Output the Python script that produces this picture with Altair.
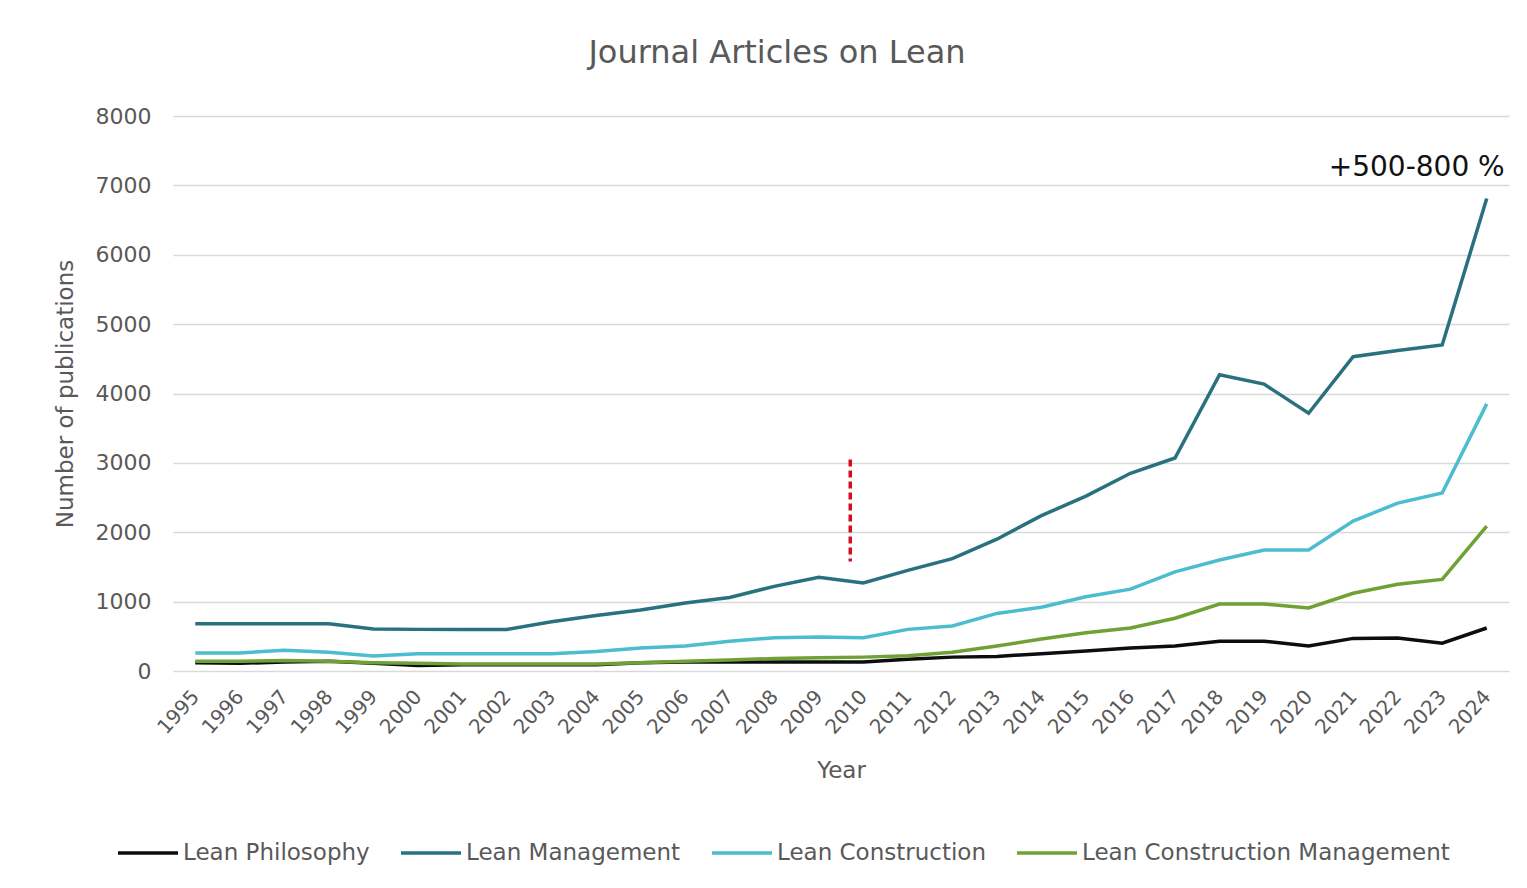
import altair as alt
import pandas as pd

years = [str(y) for y in range(1995, 2025)]

lean_philosophy = [120, 110, 130, 140, 110, 80, 90, 90, 90, 90, 120, 130, 130, 130, 130, 130,
                   170, 200, 210, 250, 290, 330, 360, 430, 430, 360, 470, 475, 400, 620]
lean_management = [680, 680, 680, 680, 605, 600, 600, 600, 710, 800, 880, 980, 1060, 1220, 1350, 1270,
                   1450, 1620, 1900, 2240, 2520, 2850, 3070, 4270, 4135, 3715, 4530, 4620, 4700, 6810]
lean_construction = [260, 260, 300, 270, 215, 250, 250, 250, 250, 280, 330, 360, 430, 480, 490, 480,
                     600, 650, 830, 920, 1070, 1180, 1430, 1600, 1745, 1745, 2160, 2420, 2565, 3850]
lean_constr_mgmt = [140, 140, 150, 140, 120, 110, 100, 100, 100, 100, 120, 140, 160, 180, 190, 200,
                    220, 270, 360, 460, 550, 620, 760, 965, 965, 910, 1120, 1250, 1320, 2090]

series_names = ["Lean Philosophy", "Lean Management", "Lean Construction", "Lean Construction Management"]
series_colors = ["#0d0d0d", "#2a7180", "#4cbccf", "#6fa135"]
series_values = [lean_philosophy, lean_management, lean_construction, lean_constr_mgmt]

rows = []
for name, vals in zip(series_names, series_values):
    for y, v in zip(years, vals):
        rows.append({"Year": y, "Value": v, "Series": name})
df = pd.DataFrame(rows)

marker_year = ["2010"]
marker_top = [3050]
marker_bottom = [1580]
marker_df = pd.DataFrame({"Year": marker_year, "top": marker_top, "bottom": marker_bottom})

note_text = ["+500-800 %"]
note_year = ["2024"]
note_value = [7250]
note_df = pd.DataFrame({"Year": note_year, "Value": note_value, "label": note_text})

FONT = "DejaVu Sans"
GREY = "#595959"

xenc = alt.X("Year:O", scale=alt.Scale(type="point", padding=0.5),
             axis=alt.Axis(title="Year", labelAngle=-48, labelFontSize=20, labelColor=GREY,
                           titleFontSize=23, titleColor=GREY, titleFontWeight="normal",
                           titlePadding=22, domain=False, ticks=False, labelPadding=22))

lines = alt.Chart(df).mark_line(strokeWidth=3.5).encode(
    x=xenc,
    y=alt.Y("Value:Q", scale=alt.Scale(domain=[0, 8000]),
            axis=alt.Axis(title="Number of publications", values=list(range(0, 8001, 1000)),
                          format="d",
                          labelFontSize=22, labelColor=GREY, titleFontSize=23, titleColor=GREY,
                          titleFontWeight="normal", titlePadding=18, domain=False, ticks=False,
                          labelPadding=22, gridColor="#d9d9d9", gridWidth=1.5)),
    color=alt.Color("Series:N", scale=alt.Scale(domain=series_names, range=series_colors),
                    legend=alt.Legend(title=None, orient="none", legendX=-57, legendY=705,
                                      direction="horizontal",
                                      symbolType="stroke", symbolSize=3600, symbolStrokeWidth=3.5,
                                      labelFontSize=23, labelColor=GREY, labelOffset=3,
                                      labelLimit=0, columnPadding=24)),
    order=alt.Order("Year:O"),
)

marker = alt.Chart(marker_df).mark_rule(color="#d0101e", strokeWidth=3.5, strokeDash=[7, 4], xOffset=-13).encode(
    x=alt.X("Year:O"),
    y=alt.Y("top:Q"),
    y2=alt.Y2("bottom:Q"),
)

note = alt.Chart(note_df).mark_text(align="right", baseline="middle", dx=18, fontSize=28,
                                     font=FONT, color="#111111").encode(
    x=alt.X("Year:O"),
    y=alt.Y("Value:Q"),
    text="label:N",
)

chart = alt.layer(lines, marker, note).properties(
    width=1336, height=555,
    title=alt.TitleParams("Journal Articles on Lean", fontSize=32, color=GREY,
                          fontWeight="normal", offset=35, font=FONT, dx=-64),
    padding={"left": 54, "top": 37, "right": 10, "bottom": 5},
).configure(font=FONT).configure_view(stroke=None).configure_axis(labelFont=FONT, titleFont=FONT)

chart.save("out.html", embed_options={"renderer": "svg", "actions": False})
